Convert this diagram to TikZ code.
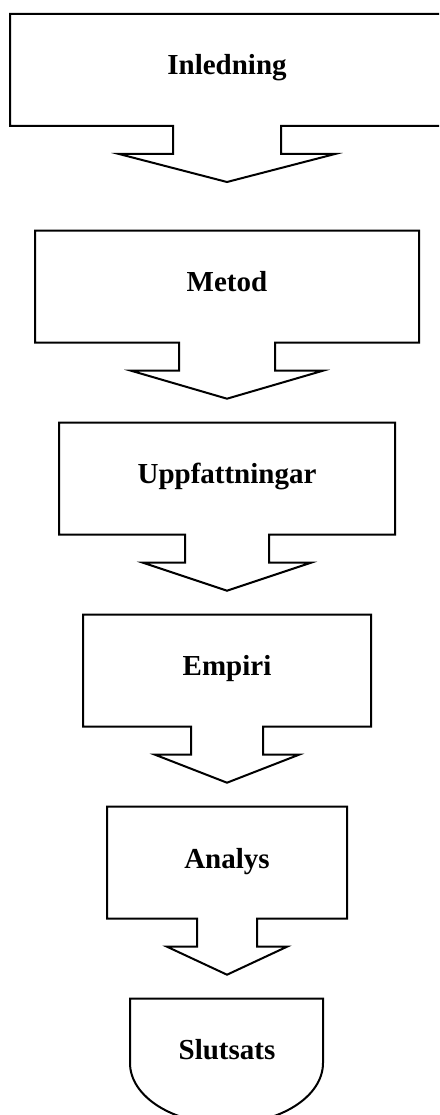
\documentclass[tikz,border=0pt]{standalone}
\usepackage{fontspec}
\setmainfont{Liberation Serif}
\newcommand{\downcallout}[9]{%
  \draw[shapeline] (#1,#3) -- (#2,#3) -- (#2,#4) -- (227+#5,#4) -- (227+#5,#6)
    -- (227+#7,#6) -- (227,#8) -- (227-#7,#6) -- (227-#5,#6) -- (227-#5,#4)
    -- (#1,#4) -- cycle;}
\begin{document}
\begin{tikzpicture}[x=1pt,y=-1pt,
  shapeline/.style={draw=black,line width=2pt,line join=miter,fill=white},
  label/.style={anchor=base,font=\fontsize{29}{34}\selectfont\bfseries,inner sep=0pt}]
\useasboundingbox (0,0) rectangle (439,1115);
\clip (0,0) rectangle (439,1115);
% shapes: L, R, T, B, stem half, stem bottom, wing half, tip
\downcallout{10}{444}{14}{126}{54}{154}{108}{182}{}
\downcallout{35}{419}{230.7}{342.7}{48}{370.7}{96}{398.7}{}
\downcallout{59}{395}{422.7}{534.7}{42}{562.7}{84}{590.7}{}
\downcallout{83}{371}{614.7}{726.7}{36}{754.7}{72}{782.7}{}
\downcallout{107}{347}{806.7}{918.7}{30}{946.7}{60}{974.7}{}
\draw[shapeline] (130,998.7) -- (323,998.7) -- (323,1063)
  .. controls (323,1096.7) and (279.8,1124) .. (226.5,1124)
  .. controls (173.2,1124) and (130,1096.7) .. (130,1063) -- cycle;
\node[label] (inledning) at (227,75) {Inledning};
\node[label] (metod) at (227,291.7) {Metod};
\node[label] (uppfattningar) at (227,483) {Uppfattningar};
\node[label] (empiri) at (227,675) {Empiri};
\node[label] (analys) at (227,868) {Analys};
\node[label] (slutsats) at (227,1059) {Slutsats};
\end{tikzpicture}
\end{document}
